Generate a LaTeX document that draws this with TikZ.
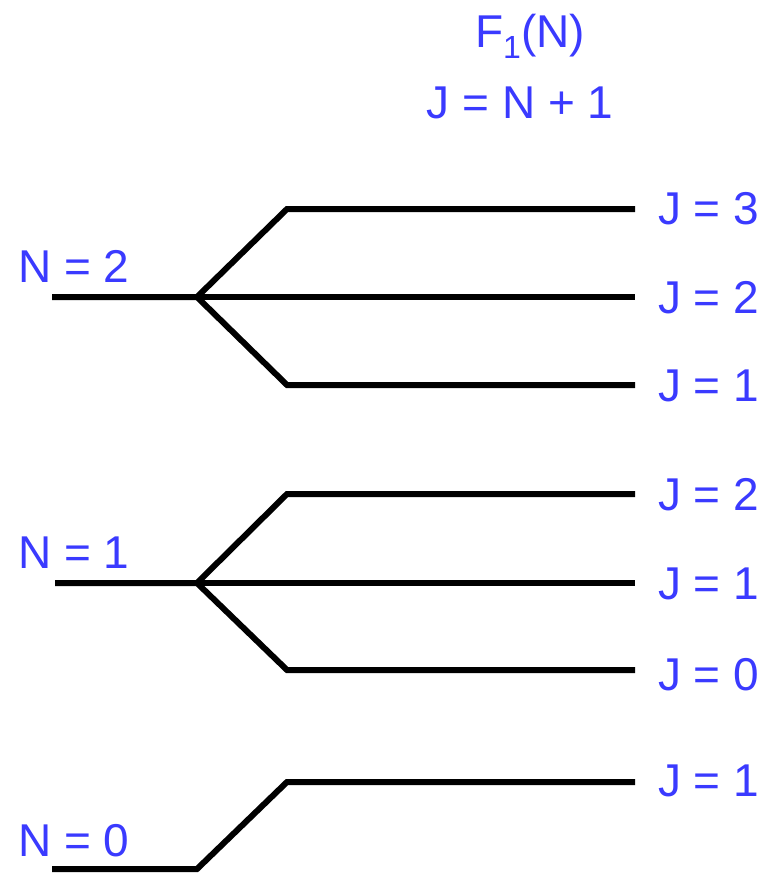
\documentclass[tikz,border=0pt]{standalone}
\usepackage{fontspec}
\setmainfont{Liberation Sans}
\definecolor{lblue}{RGB}{58,58,255}
\begin{document}
\begin{tikzpicture}[x=1pt,y=-1pt,
  level/.style={line width=6pt,black,line join=miter},
  lab/.style={text=lblue,font=\fontsize{46}{50}\selectfont,anchor=base west,inner sep=0pt}]
\useasboundingbox (0,0) rectangle (766,873);
% title
\node[lab,anchor=base] (t1) at (530,47) {F\raisebox{-11pt}{\fontsize{32}{32}\selectfont 1}(N)};
\node[lab,anchor=base] (t2) at (520,118) {J = N + 1};
% N = 2
\coordinate (a0) at (52,297); \coordinate (a1) at (197,297);
\coordinate (a2u) at (287,209); \coordinate (a2e) at (635,209);
\coordinate (a3e) at (635,297);
\coordinate (a4u) at (287,385); \coordinate (a4e) at (635,385);
\draw[level] (a0) -- (a1) -- (a2u) -- (a2e);
\draw[level] (a1) -- (a3e);
\draw[level] (a1) -- (a4u) -- (a4e);
\node[lab] (n2) at (18,282) {N = 2};
\node[lab] (j23) at (658,224) {J = 3};
\node[lab] (j22) at (658,313) {J = 2};
\node[lab] (j21) at (658,401) {J = 1};
% N = 1
\coordinate (b0) at (55,583); \coordinate (b1) at (197,583);
\coordinate (b2u) at (287,494); \coordinate (b2e) at (635,494);
\coordinate (b3e) at (635,583);
\coordinate (b4u) at (287,670); \coordinate (b4e) at (635,670);
\draw[level] (b0) -- (b1) -- (b2u) -- (b2e);
\draw[level] (b1) -- (b3e);
\draw[level] (b1) -- (b4u) -- (b4e);
\node[lab] (n1) at (18,568) {N = 1};
\node[lab] (j12) at (658,510) {J = 2};
\node[lab] (j11) at (658,599) {J = 1};
\node[lab] (j10) at (658,690) {J = 0};
% N = 0
\coordinate (c0) at (52,869); \coordinate (c1) at (197,869);
\coordinate (c2u) at (287,782); \coordinate (c2e) at (635,782);
\draw[level] (c0) -- (c1) -- (c2u) -- (c2e);
\node[lab] (n0) at (18,856) {N = 0};
\node[lab] (j01) at (658,796) {J = 1};
\end{tikzpicture}
\end{document}
